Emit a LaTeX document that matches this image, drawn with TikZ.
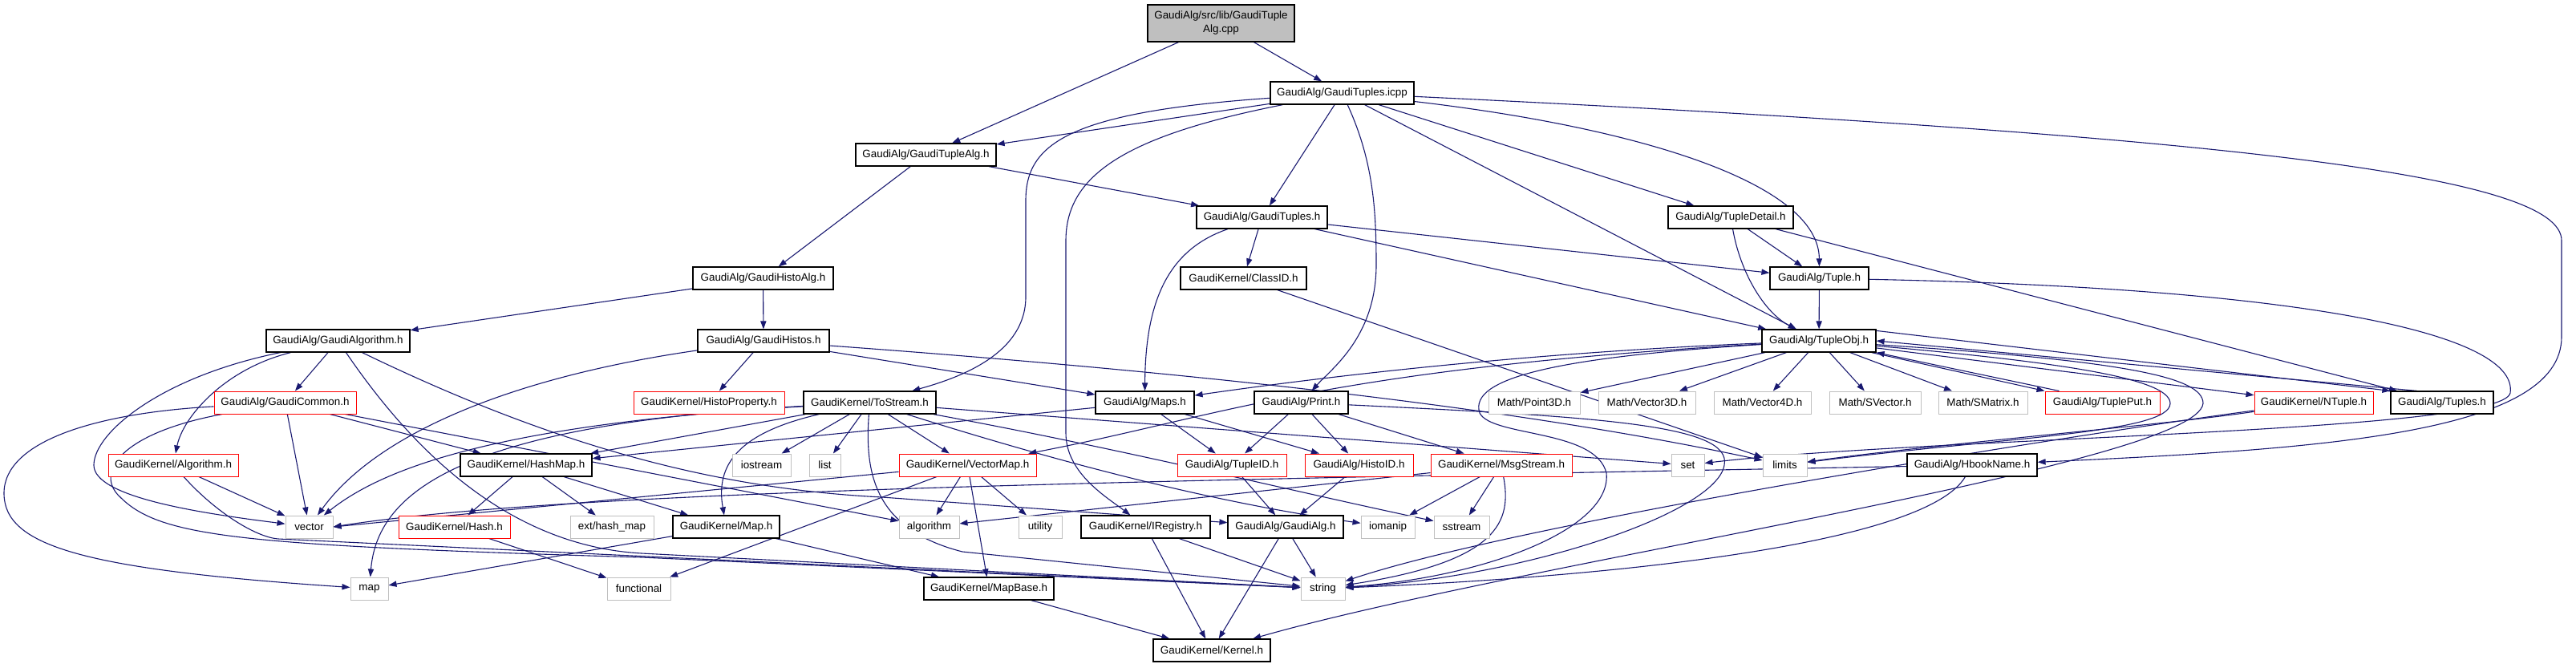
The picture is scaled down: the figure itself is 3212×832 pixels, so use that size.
\documentclass[tikz,border=0pt]{standalone}
\usepackage{fontspec}
\setmainfont{Liberation Sans}
\usepackage{tikz}
\usetikzlibrary{arrows.meta,backgrounds}
\definecolor{edgeblue}{HTML}{191970}
\definecolor{greyb}{HTML}{BFBFBF}
\tikzset{
  hdr/.style={draw=black, line width=0.6pt, fill=white, minimum height=14pt, inner sep=0pt,
    font=\fontsize{6.7}{8.5}\selectfont},
  sysh/.style={hdr, draw=greyb, line width=0.5pt},
  redh/.style={hdr, draw=red, line width=0.5pt},
  dep/.style={-{Triangle[length=5pt,width=3.6pt]}, draw=edgeblue, line width=0.55pt}
}
\begin{document}
\begin{tikzpicture}[x=0.5pt,y=-0.5pt]
\useasboundingbox (0,0) rectangle (3212,832);
% rank 0-4
\node (root) at (1522.5,29) [hdr, fill=greyb, minimum width=91.5pt, minimum height=23pt, align=center] {GaudiAlg/src/lib/GaudiTuple\\Alg.cpp};
\node (icpp) at (1673.5,116) [hdr, minimum width=89.5pt] {GaudiAlg/GaudiTuples.icpp};
\node (tuplealg) at (1154.5,193) [hdr, minimum width=87.5pt] {GaudiAlg/GaudiTupleAlg.h};
\node (gtuplesh) at (1573.5,271) [hdr, minimum width=81.5pt] {GaudiAlg/GaudiTuples.h};
\node (tupledetail) at (2158,271) [hdr, minimum width=78pt] {GaudiAlg/TupleDetail.h};
\node (histoalg) at (951.5,347) [hdr, minimum width=87.5pt] {GaudiAlg/GaudiHistoAlg.h};
\node (classid) at (1550.5,347) [hdr, minimum width=78.5pt] {GaudiKernel/ClassID.h};
\node (tuple) at (2268.5,347) [hdr, minimum width=61.5pt] {GaudiAlg/Tuple.h};
% rank 5
\node (galgorithm) at (421.5,425) [hdr, minimum width=89.5pt] {GaudiAlg/GaudiAlgorithm.h};
\node (ghistos) at (952,425) [hdr, minimum width=82pt] {GaudiAlg/GaudiHistos.h};
\node (tupleobj) at (2268,425) [hdr, minimum width=71pt] {GaudiAlg/TupleObj.h};
% rank 6
\node (gcommon) at (355.5,502) [redh, minimum width=88.5pt] {GaudiAlg/GaudiCommon.h};
\node (histoprop) at (884,502) [redh, minimum width=94pt] {GaudiKernel/HistoProperty.h};
\node (tostream) at (1084.5,502) [hdr, minimum width=82.5pt] {GaudiKernel/ToStream.h};
\node (maps) at (1427.5,502) [hdr, minimum width=61.5pt] {GaudiAlg/Maps.h};
\node (print) at (1622.5,502) [hdr, minimum width=58.5pt] {GaudiAlg/Print.h};
\node (point3d) at (1913,502) [sysh, minimum width=57pt] {Math/Point3D.h};
\node (vector3d) at (2053.5,502) [sysh, minimum width=60.5pt] {Math/Vector3D.h};
\node (vector4d) at (2197.5,502) [sysh, minimum width=60.5pt] {Math/Vector4D.h};
\node (svector) at (2338,502) [sysh, minimum width=57pt] {Math/SVector.h};
\node (smatrix) at (2472.5,502) [sysh, minimum width=55.5pt] {Math/SMatrix.h};
\node (tupleput) at (2621.5,502) [redh, minimum width=71.5pt] {GaudiAlg/TuplePut.h};
\node (ntuple) at (2885,502) [redh, minimum width=74pt] {GaudiKernel/NTuple.h};
\node (tuples) at (3045,502) [hdr, minimum width=64pt] {GaudiAlg/Tuples.h};
% rank 7
\node (kalgorithm) at (216,580) [redh, minimum width=81pt] {GaudiKernel/Algorithm.h};
\node (hashmap) at (656,580) [hdr, minimum width=82pt] {GaudiKernel/HashMap.h};
\node (iostream) at (949.5,580) [sysh, minimum width=36.5pt] {iostream};
\node (list) at (1028.5,580) [sysh, minimum width=19.5pt] {list};
\node (vectormap) at (1206.5,580) [redh, minimum width=85.5pt] {GaudiKernel/VectorMap.h};
\node (tupleid) at (1536,580) [redh, minimum width=68pt] {GaudiAlg/TupleID.h};
\node (histoid) at (1694.5,580) [redh, minimum width=67.5pt] {GaudiAlg/HistoID.h};
\node (msgstream) at (1872,580) [redh, minimum width=88pt] {GaudiKernel/MsgStream.h};
\node (set) at (2104.5,580) [sysh, minimum width=20.5pt] {set};
\node (limits) at (2225.5,580) [sysh, minimum width=27.5pt] {limits};
\node (hbookname) at (2459,580) [hdr, minimum width=81pt] {GaudiAlg/HbookName.h};
% rank 8
\node (vector) at (385.5,657) [sysh, minimum width=29.5pt] {vector};
\node (hash) at (566.5,657) [redh, minimum width=69.5pt] {GaudiKernel/Hash.h};
\node (hashmapext) at (763,657) [sysh, minimum width=52pt] {ext/hash\_map};
\node (mapk) at (905.5,657) [hdr, minimum width=66.5pt] {GaudiKernel/Map.h};
\node (algorithm) at (1158.5,657) [sysh, minimum width=37.5pt] {algorithm};
\node (utility) at (1297,657) [sysh, minimum width=27pt] {utility};
\node (iregistry) at (1428.5,657) [hdr, minimum width=80.5pt] {GaudiKernel/IRegistry.h};
\node (gaudialg) at (1603,657) [hdr, minimum width=72pt] {GaudiAlg/GaudiAlg.h};
\node (iomanip) at (1730.5,657) [sysh, minimum width=33.5pt] {iomanip};
\node (sstream) at (1822.5,657) [sysh, minimum width=34.5pt] {sstream};
% rank 9-10
\node (map) at (460.5,734) [sysh, minimum width=23.5pt] {map};
\node (functional) at (796.5,734) [sysh, minimum width=39.5pt] {functional};
\node (mapbase) at (1233,734) [hdr, minimum width=81pt] {GaudiKernel/MapBase.h};
\node (string) at (1649.5,734) [sysh, minimum width=27.5pt] {string};
\node (kernel) at (1511,811) [hdr, minimum width=73pt] {GaudiKernel/Kernel.h};

\begin{pgfonlayer}{background}
% source file and GaudiTuples.icpp
\draw[dep] (root) -- (tuplealg);
\draw[dep] (root) -- (icpp);
\draw[dep] (icpp) -- (tuplealg);
\draw[dep] (icpp) .. controls (1330,140) and (1279,180) .. (1279,250) -- (1279,370) .. controls (1279,440) and (1200,470) .. (tostream);
\draw[dep] (icpp) .. controls (1400,170) and (1329,220) .. (1329,300) -- (1329,540) .. controls (1329,590) and (1380,620) .. (iregistry);
\draw[dep] (icpp) -- (gtuplesh);
\draw[dep] (icpp) .. controls (1712,200) and (1716,260) .. (1716,330) .. controls (1716,420) and (1660,460) .. (print);
\draw[dep] (icpp) -- (tupleobj);
\draw[dep] (icpp) -- (tupledetail);
\draw[dep] (icpp) .. controls (2050,160) and (2268,230) .. (tuple);
\draw[dep] (icpp) .. controls (2800,170) and (3194,220) .. (3194,300) -- (3194,420) .. controls (3194,540) and (2900,560) .. (hbookname);
% upper headers
\draw[dep] (tuplealg) -- (histoalg);
\draw[dep] (tuplealg) -- (gtuplesh);
\draw[dep] (histoalg) -- (ghistos);
\draw[dep] (histoalg) -- (galgorithm);
\draw[dep] (gtuplesh) -- (classid);
\draw[dep] (gtuplesh) .. controls (1460,310) and (1428,370) .. (maps);
\draw[dep] (gtuplesh) -- (tuple);
\draw[dep] (gtuplesh) -- (tupleobj);
\draw[dep] (classid) -- (limits);
\draw[dep] (tupledetail) -- (tuple);
\draw[dep] (tupledetail) .. controls (2170,340) and (2200,390) .. (tupleobj);
\draw[dep] (tupledetail) -- (tuples);
\draw[dep] (tuple) -- (tupleobj);
\draw[dep] (tuple) .. controls (2900,360) and (3140,420) .. (3130,490) .. controls (3120,540) and (2400,545) .. (set);
% GaudiAlgorithm and friends
\draw[dep] (galgorithm) -- (gcommon);
\draw[dep] (galgorithm) .. controls (280,460) and (228,520) .. (kalgorithm);
\draw[dep] (galgorithm) .. controls (200,470) and (117,540) .. (117,580) .. controls (117,620) and (250,640) .. (vector);
\draw[dep] (galgorithm) .. controls (500,540) and (620,680) .. (800,690) -- (string);
\draw[dep] (galgorithm) .. controls (700,560) and (900,610) .. (1100,620) -- (gaudialg);
\draw[dep] (ghistos) -- (histoprop);
\draw[dep] (ghistos) -- (maps);
\draw[dep] (ghistos) .. controls (640,470) and (470,540) .. (vector);
\draw[dep] (ghistos) .. controls (1500,465) and (1900,510) .. (limits);
\draw[dep] (gcommon) -- (vector);
\draw[dep] (gcommon) -- (hashmap);
\draw[dep] (gcommon) -- (algorithm);
\draw[dep] (gcommon) .. controls (120,515) and (5,550) .. (5,615) .. controls (5,680) and (100,710) .. (map);
\draw[dep] (gcommon) .. controls (150,540) and (117,590) .. (150,620) .. controls (200,670) and (300,680) .. (800,695) -- (string);
\draw[dep] (kalgorithm) -- (vector);
\draw[dep] (kalgorithm) .. controls (270,640) and (320,670) .. (347,672) -- (string);
\draw[dep] (hashmap) -- (hash);
\draw[dep] (hashmap) -- (hashmapext);
\draw[dep] (hashmap) -- (mapk);
\draw[dep] (hash) -- (functional);
\draw[dep] (mapk) -- (map);
\draw[dep] (mapk) -- (mapbase);
% ToStream
\draw[dep] (tostream) -- (iostream);
\draw[dep] (tostream) -- (list);
\draw[dep] (tostream) -- (vectormap);
\draw[dep] (tostream) -- (hashmap);
\draw[dep] (tostream) .. controls (920,540) and (892,580) .. (mapk);
\draw[dep] (tostream) .. controls (600,530) and (470,590) .. (vector);
\draw[dep] (tostream) .. controls (560,530) and (470,620) .. (map);
\draw[dep] (tostream) -- (set);
\draw[dep] (tostream) .. controls (1078,590) and (1090,660) .. (1200,688) -- (string);
\draw[dep] (tostream) .. controls (1300,570) and (1500,625) .. (iomanip);
\draw[dep] (tostream) .. controls (1400,560) and (1600,610) .. (sstream);
\draw[dep] (vectormap) -- (algorithm);
\draw[dep] (vectormap) -- (utility);
\draw[dep] (vectormap) -- (mapbase);
\draw[dep] (vectormap) -- (functional);
\draw[dep] (vectormap) -- (vector.east);
% Maps, Print and the lower ones
\draw[dep] (maps) -- (tupleid);
\draw[dep] (maps) -- (histoid);
\draw[dep] (maps) -- (hashmap);
\draw[dep] (print) -- (tupleid);
\draw[dep] (print) -- (histoid);
\draw[dep] (print) -- (msgstream);
\draw[dep] (print) .. controls (2000,520) and (2160,530) .. (2150,580) .. controls (2140,640) and (1900,720) .. (string);
\draw[dep] (tupleid) -- (gaudialg);
\draw[dep] (histoid) -- (gaudialg);
\draw[dep] (iregistry) -- (kernel);
\draw[dep] (iregistry) -- (string);
\draw[dep] (gaudialg) -- (string);
\draw[dep] (gaudialg) -- (kernel);
\draw[dep] (mapbase) -- (kernel);
\draw[dep] (msgstream) -- (iomanip);
\draw[dep] (msgstream) -- (sstream);
\draw[dep] (msgstream) .. controls (1885,650) and (1870,700) .. (string);
\draw[dep] (msgstream) -- (algorithm);
% TupleObj
\draw[dep] (tupleobj) -- (point3d);
\draw[dep] (tupleobj) -- (vector3d);
\draw[dep] (tupleobj) -- (vector4d);
\draw[dep] (tupleobj) -- (svector);
\draw[dep] (tupleobj) -- (smatrix);
\draw[dep] (tupleobj) -- (tupleput.north west);
\draw[dep] ([xshift=9pt]tupleput.north west) -- (tupleobj.south east);
\draw[dep] (tupleobj) -- (ntuple);
\draw[dep] (tupleobj.10) -- (tuples.north west);
\draw[dep] (tuples.155) -- (tupleobj.east);
\draw[dep] (tupleobj) .. controls (1900,440) and (1650,470) .. (maps);
\draw[dep] (tupleobj) .. controls (1650,460) and (1520,520) .. (vectormap);
\draw[dep] (tupleobj) .. controls (1950,445) and (1830,470) .. (1845,515) .. controls (1860,545) and (1990,535) .. (2003,590) .. controls (2010,660) and (1850,720) .. (string);
\draw[dep] (tupleobj) .. controls (2550,450) and (2706,470) .. (2706,503) .. controls (2706,540) and (2500,545) .. (limits);
\draw[dep] (tupleobj) .. controls (2650,450) and (2747,470) .. (2747,503) .. controls (2740,580) and (1900,700) .. (kernel);
\draw[dep] (ntuple) .. controls (2700,530) and (2400,555) .. (limits);
\draw[dep] (ntuple) .. controls (2600,540) and (1900,650) .. (string);
\draw[dep] (hbookname) .. controls (2400,680) and (2000,720) .. (string);
\draw[dep] (hbookname) .. controls (1400,600) and (700,612) .. (vector.east);
\end{pgfonlayer}
\end{tikzpicture}
\end{document}
